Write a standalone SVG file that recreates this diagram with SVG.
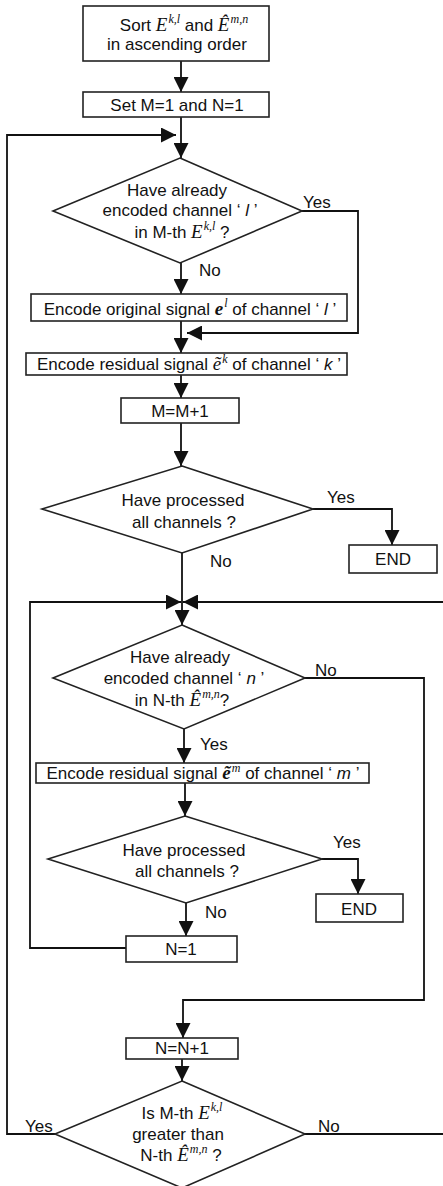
<svg xmlns="http://www.w3.org/2000/svg" width="443" height="1186" viewBox="0 0 443 1186">
<style>
.b{fill:#fff;stroke:#222;stroke-width:1.6}
.c{fill:none;stroke:#111;stroke-width:1.8}
.t{font-family:"Liberation Sans",Arial,sans-serif;font-size:17px;fill:#111;text-anchor:middle}
.l{font-family:"Liberation Sans",Arial,sans-serif;font-size:17px;fill:#111}
.m{font-family:"Liberation Serif","Times New Roman",serif;font-style:italic;font-size:19px}
.mb{font-family:"Liberation Serif","Times New Roman",serif;font-style:italic;font-weight:bold;font-size:19px}
.s{font-family:"Liberation Serif","Times New Roman",serif;font-style:italic;font-size:12px}
.i{font-style:italic}
</style>
<defs>
<marker id="a" viewBox="0 0 15 15" refX="15" refY="7.5" markerWidth="15" markerHeight="15" markerUnits="userSpaceOnUse" orient="auto">
<path d="M0,0 L15,7.5 L0,15 Z" fill="#111"/>
</marker>
</defs>
<g id="connectors">
<path class="c" d="M181,61 V92" marker-end="url(#a)"/>
<path class="c" d="M181,117 V158" marker-end="url(#a)"/>
<path class="c" d="M55,1134 H7 V135 H176" marker-end="url(#a)"/>
<path class="c" d="M181,263 V294" marker-end="url(#a)"/>
<path class="c" d="M302,211 H358 V333 H187" marker-end="url(#a)"/>
<path class="c" d="M181,321 V353" marker-end="url(#a)"/>
<path class="c" d="M181,375 V398" marker-end="url(#a)"/>
<path class="c" d="M181,423 V466" marker-end="url(#a)"/>
<path class="c" d="M313,509 H392 V545" marker-end="url(#a)"/>
<path class="c" d="M182,553 V625" marker-end="url(#a)"/>
<path class="c" d="M126,948 H30 V602 H181" marker-end="url(#a)"/>
<path class="c" d="M305,1134 H447 V602 H183" marker-end="url(#a)"/>
<path class="c" d="M305,678 H424 V1000 H183 V1038" marker-end="url(#a)"/>
<path class="c" d="M184,729 V763" marker-end="url(#a)"/>
<path class="c" d="M185,783 V816" marker-end="url(#a)"/>
<path class="c" d="M322,859 H358 V894" marker-end="url(#a)"/>
<path class="c" d="M186,903 V936" marker-end="url(#a)"/>
<path class="c" d="M182,1059 V1081" marker-end="url(#a)"/>
</g>
<g id="sort">
<rect class="b" x="83" y="6" width="186" height="55"/>
<text class="t" x="184" y="31">Sort <tspan class="m">E</tspan><tspan class="s" dx="1" dy="-8">k,l</tspan><tspan dy="8"> and </tspan><tspan class="m">Ê</tspan><tspan class="s" dx="1" dy="-8">m,n</tspan></text>
<text class="t" x="177" y="50">in ascending order</text>
</g>
<g id="setmn">
<rect class="b" x="83" y="92" width="186" height="25"/>
<text class="t" x="177" y="111">Set M=1 and N=1</text>
</g>
<g id="dec1">
<polygon class="b" points="180,158 302,211 180,263 53,211"/>
<text class="t" x="177" y="196">Have already</text>
<text class="t" x="180" y="216">encoded channel ‘ <tspan class="i">l</tspan> ’</text>
<text class="t" x="182" y="238">in M-th <tspan class="m">E</tspan><tspan class="s" dx="1" dy="-8">k,l</tspan><tspan dy="8"> ?</tspan></text>
<text class="l" x="303" y="208">Yes</text>
<text class="l" x="199" y="276">No</text>
</g>
<g id="encorig">
<rect class="b" x="31" y="294" width="316" height="27"/>
<text class="t" x="190" y="315">Encode original signal <tspan class="mb">e</tspan><tspan class="s" dx="1" dy="-8">l</tspan><tspan dy="8"> of channel ‘ </tspan><tspan class="i">l</tspan> ’</text>
</g>
<g id="encresk">
<rect class="b" x="26" y="353" width="321" height="22"/>
<text class="t" x="189" y="370">Encode residual signal <tspan class="m">ẽ</tspan><tspan class="s" dx="1" dy="-7">k</tspan><tspan dy="7"> of channel ‘ </tspan><tspan class="i">k</tspan> ’</text>
</g>
<g id="mplus">
<rect class="b" x="121" y="398" width="118" height="25"/>
<text class="t" x="180" y="417">M=M+1</text>
</g>
<g id="dec2">
<polygon class="b" points="182,466 313,509 182,553 42,509"/>
<text class="t" x="183" y="506">Have processed</text>
<text class="t" x="184" y="528">all channels ?</text>
<text class="l" x="327" y="503">Yes</text>
<text class="l" x="210" y="567">No</text>
</g>
<g id="end1">
<rect class="b" x="349" y="545" width="88" height="28"/>
<text class="t" x="393" y="565">END</text>
</g>
<g id="dec3">
<polygon class="b" points="182,625 305,678 184,729 53,678"/>
<text class="t" x="180" y="663">Have already</text>
<text class="t" x="184" y="684">encoded channel ‘ <tspan class="i">n</tspan> ’</text>
<text class="t" x="182" y="706">in N-th <tspan class="m">Ê</tspan><tspan class="s" dx="1" dy="-8">m,n</tspan><tspan dy="8">?</tspan></text>
<text class="l" x="315" y="676">No</text>
<text class="l" x="200" y="750">Yes</text>
</g>
<g id="encresm">
<rect class="b" x="36" y="763" width="333" height="20"/>
<text class="t" x="203" y="779">Encode residual signal <tspan class="mb">ẽ</tspan><tspan class="s" dx="1" dy="-7">m</tspan><tspan dy="7"> of channel ‘ </tspan><tspan class="i">m</tspan> ’</text>
</g>
<g id="dec4">
<polygon class="b" points="185,816 322,859 186,903 48,859"/>
<text class="t" x="184" y="856">Have processed</text>
<text class="t" x="187" y="877">all channels ?</text>
<text class="l" x="333" y="848">Yes</text>
<text class="l" x="205" y="918">No</text>
</g>
<g id="end2">
<rect class="b" x="316" y="894" width="87" height="28"/>
<text class="t" x="359" y="915">END</text>
</g>
<g id="n1">
<rect class="b" x="126" y="936" width="111" height="26"/>
<text class="t" x="181" y="955">N=1</text>
</g>
<g id="nplus">
<rect class="b" x="126" y="1038" width="112" height="21"/>
<text class="t" x="182" y="1054">N=N+1</text>
</g>
<g id="dec5">
<polygon class="b" points="182,1081 305,1134 182,1188 55,1134"/>
<text class="t" x="182" y="1119">Is M-th <tspan class="m">E</tspan><tspan class="s" dx="1" dy="-8">k,l</tspan></text>
<text class="t" x="178" y="1140">greater than</text>
<text class="t" x="181" y="1161">N-th <tspan class="m">Ê</tspan><tspan class="s" dx="1" dy="-8">m,n</tspan><tspan dy="8"> ?</tspan></text>
<text class="l" x="25" y="1132">Yes</text>
<text class="l" x="318" y="1132">No</text>
</g>
</svg>
